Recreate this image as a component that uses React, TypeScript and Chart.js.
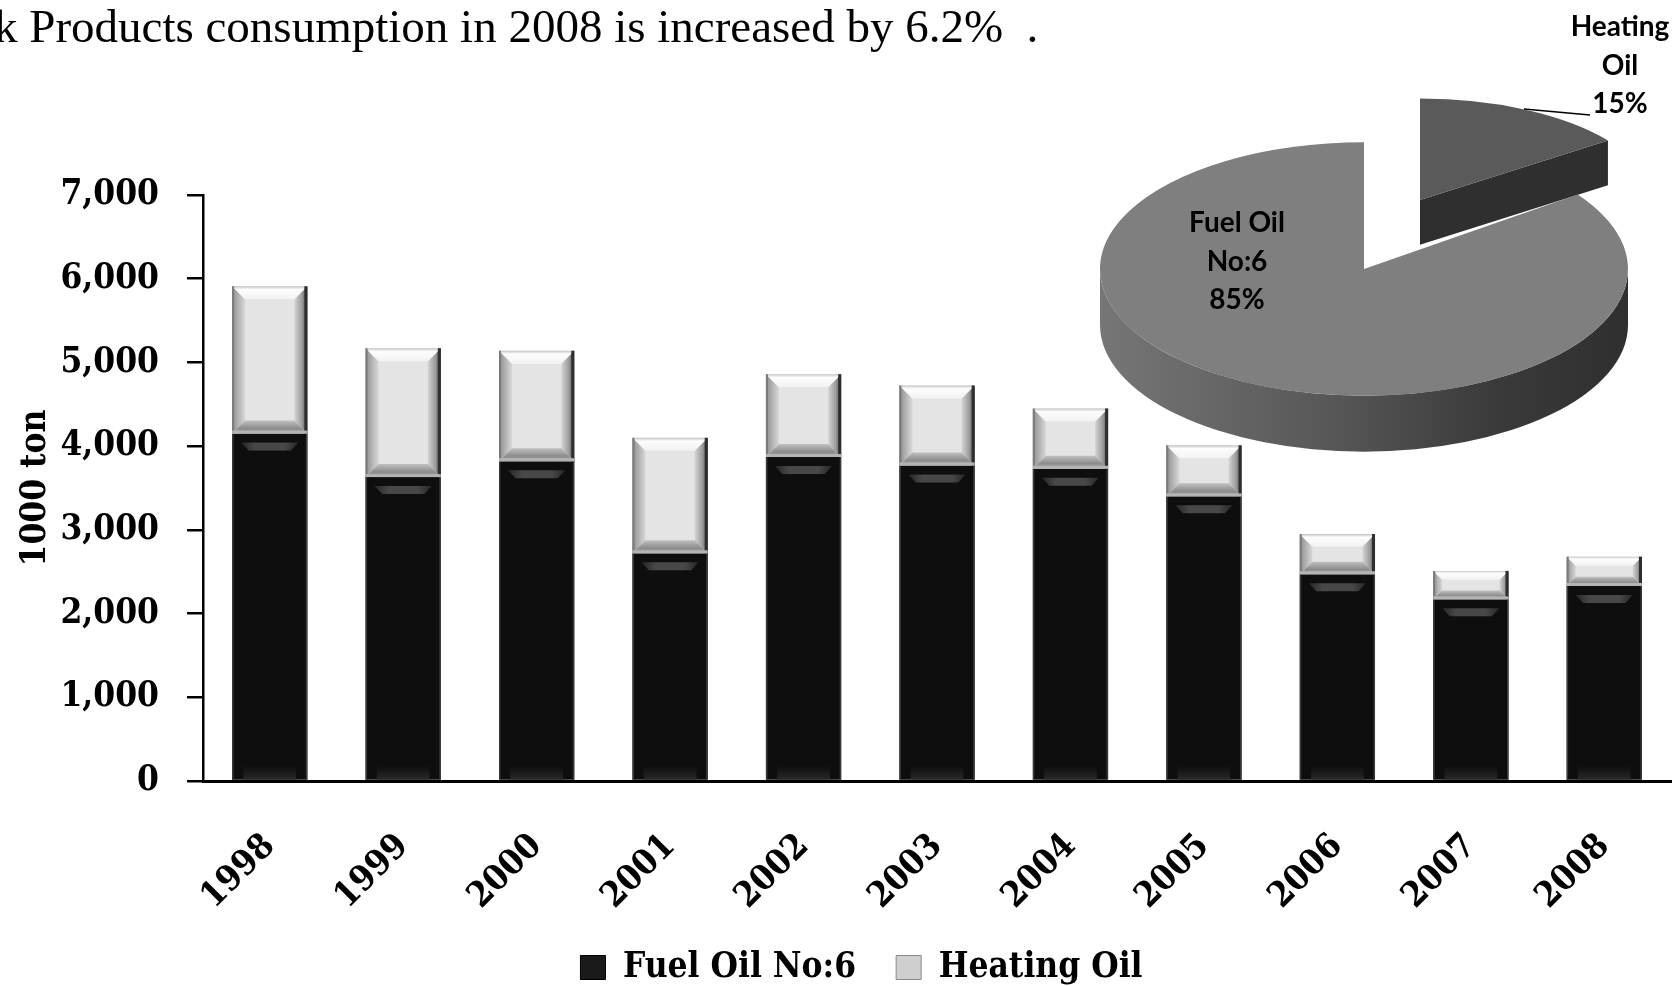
import React, { useEffect, useRef } from 'react';
import { Chart, registerables } from 'chart.js';

Chart.register(...registerables);

// ---------- data ----------
const years = ['1998', '1999', '2000', '2001', '2002', '2003', '2004', '2005', '2006', '2007', '2008'];
const fuelOilNo6 = [4150, 3630, 3820, 2720, 3870, 3770, 3730, 3400, 2470, 2170, 2330];
const heatingOil = [1760, 1540, 1320, 1380, 990, 955, 720, 610, 480, 340, 350];
const seriesNames = ['Fuel Oil No:6', 'Heating Oil'];
const yMin = 0;
const yMax = 7000;
const yStep = 1000;
const yAxisTitle = '1000 ton';
const headline = 'k Products consumption in 2008 is increased by 6.2%  .';

const pieLabels = ['Heating Oil', 'Fuel Oil No:6'];
const pieShares = [15, 85];
const pieLabelLines = [['Heating', 'Oil'], ['Fuel Oil', 'No:6']];

// ---------- styles ----------
const W = 1679;
const H = 986;
const SERIF = '"DejaVu Serif Condensed", "DejaVu Serif"';
const FONT_SIZE = 35;
const PLOT_LEFT = 203;
const PLOT_BOTTOM = 781;
const PAD_LEFT = 44;
const PAD_BOTTOM = -9;

const PIE_LEFT = 1064;
const PIE_W = 615;
const PIE_H = 480;
const PIE_CX = 300;
const PIE_CY = 269;
const PIE_R = 264;
const TILT = 0.48;
const DEPTH = 56;
const EXPLODE_XY = [
  [56, -69],
  [0, 0],
];
const SLICE_SCALE = [
  [0.88, 0.8],
  [1, 1],
];
const PIE_COLORS = ['#5a5a5a', '#7f7f7f'];

function poly(ctx: CanvasRenderingContext2D, pts: number[][], fill: any) {
  ctx.beginPath();
  ctx.moveTo(pts[0][0], pts[0][1]);
  for (let i = 1; i < pts.length; i++) ctx.lineTo(pts[i][0], pts[i][1]);
  ctx.closePath();
  ctx.fillStyle = fill;
  ctx.fill();
}

function drawHeating(ctx: CanvasRenderingContext2D, x0: number, x1: number, y0: number, y1: number) {
  const h = y1 - y0;
  const b = Math.min(13, h / 3.2, (x1 - x0) / 4);
  let g = ctx.createLinearGradient(x0, 0, x0 + b, 0);
  g.addColorStop(0, '#8e8e8e');
  g.addColorStop(1, '#d8d8d8');
  poly(ctx, [[x0, y0], [x0 + b, y0 + b], [x0 + b, y1 - b], [x0, y1]], g);
  g = ctx.createLinearGradient(x1 - b, 0, x1, 0);
  g.addColorStop(0, '#d4d4d4');
  g.addColorStop(0.6, '#9a9a9a');
  g.addColorStop(1, '#444444');
  poly(ctx, [[x1, y0], [x1, y1], [x1 - b, y1 - b], [x1 - b, y0 + b]], g);
  g = ctx.createLinearGradient(0, y0, 0, y0 + b);
  g.addColorStop(0, '#c4c4c4');
  g.addColorStop(0.25, '#fdfdfd');
  g.addColorStop(1, '#f2f2f2');
  poly(ctx, [[x0, y0], [x1, y0], [x1 - b, y0 + b], [x0 + b, y0 + b]], g);
  g = ctx.createLinearGradient(0, y1 - b, 0, y1);
  g.addColorStop(0, '#c0c0c0');
  g.addColorStop(0.6, '#8c8c8c');
  g.addColorStop(1, '#a4a4a4');
  poly(ctx, [[x0, y1], [x1, y1], [x1 - b, y1 - b], [x0 + b, y1 - b]], g);
  ctx.fillStyle = '#7a7a7a';
  ctx.fillRect(x0, y0, 2, h);
  ctx.fillStyle = '#2e2e2e';
  ctx.fillRect(x1 - 3, y0, 3, h);
  ctx.fillStyle = '#b4b4b4';
  ctx.fillRect(x0, y1 - 3, x1 - x0, 3);
}

function drawFuel(ctx: CanvasRenderingContext2D, x0: number, x1: number, y0: number, y1: number) {
  const w = x1 - x0;
  const h = y1 - y0;
  const g = ctx.createLinearGradient(x0, 0, x1, 0);
  g.addColorStop(0, 'rgba(110,110,110,0)');
  g.addColorStop(0.3, 'rgba(110,110,110,0.6)');
  g.addColorStop(0.7, 'rgba(110,110,110,0.6)');
  g.addColorStop(1, 'rgba(110,110,110,0)');
  poly(ctx, [[x0 + 0.12 * w, y0 + 9], [x1 - 0.12 * w, y0 + 9], [x1 - 0.22 * w, y0 + 17], [x0 + 0.22 * w, y0 + 17]], g);
  ctx.fillStyle = '#3a3a3a';
  ctx.fillRect(x0, y0, 1.5, h);
  ctx.fillRect(x1 - 1.5, y0, 1.5, h);
  const g2 = ctx.createLinearGradient(0, y1 - 14, 0, y1);
  g2.addColorStop(0, 'rgba(40,40,40,0)');
  g2.addColorStop(1, 'rgba(45,45,45,0.9)');
  ctx.fillStyle = g2;
  ctx.fillRect(x0 + 0.15 * w, y1 - 14, 0.7 * w, 14);
}

const barBevel = {
  id: 'barBevel',
  afterDatasetsDraw(chart: any) {
    const ctx = chart.ctx as CanvasRenderingContext2D;
    chart.data.datasets.forEach((_: any, di: number) => {
      const meta = chart.getDatasetMeta(di);
      meta.data.forEach((bar: any) => {
        const p = bar.getProps(['x', 'y', 'base', 'width'], true);
        const x0 = p.x - p.width / 2;
        const x1 = p.x + p.width / 2;
        const y0 = Math.min(p.y, p.base);
        const y1 = Math.max(p.y, p.base);
        ctx.save();
        if (di === 1) drawHeating(ctx, x0, x1, y0, y1);
        else drawFuel(ctx, x0, x1, y0, y1);
        ctx.restore();
      });
    });
  },
};

const pie3d = {
  id: 'pie3d',
  beforeDatasetsDraw(chart: any) {
    const ctx = chart.ctx as CanvasRenderingContext2D;
    const meta = chart.getDatasetMeta(0);
    const d = DEPTH / TILT;
    meta.data.forEach((arc: any, i: number) => {
      const p = arc.getProps(['x', 'y', 'startAngle', 'endAngle', 'outerRadius'], true);
      const cx = p.x;
      const cy = p.y;
      const R = p.outerRadius;
      const [dx, dy] = EXPLODE_XY[i] || [0, 0];
      const [sx, sy] = SLICE_SCALE[i] || [1, 1];
      ctx.save();
      ctx.translate(cx + dx, cy + dy);
      ctx.scale(sx, sy * TILT);
      ctx.translate(-cx, -cy);
      const face = (a: number) => {
        const ex = cx + R * Math.cos(a);
        const ey = cy + R * Math.sin(a);
        poly(ctx, [[cx, cy], [ex, ey], [ex, ey + d], [cx, cy + d]], '#2f2f2f');
      };
      if (Math.cos(p.endAngle) > 0.01) face(p.endAngle);
      if (Math.cos(p.startAngle) < -0.01) face(p.startAngle);
      for (let k = -1; k <= 1; k++) {
        const lo = Math.max(p.startAngle, 2 * Math.PI * k);
        const hi = Math.min(p.endAngle, Math.PI + 2 * Math.PI * k);
        if (hi > lo) {
          const g = ctx.createLinearGradient(cx - R, 0, cx + R, 0);
          g.addColorStop(0, '#767676');
          g.addColorStop(0.45, '#565656');
          g.addColorStop(0.75, '#3a3a3a');
          g.addColorStop(1, '#2f2f2f');
          ctx.beginPath();
          ctx.arc(cx, cy, R, lo, hi);
          ctx.arc(cx, cy + d, R, hi, lo, true);
          ctx.closePath();
          ctx.fillStyle = g;
          ctx.fill();
        }
      }
      arc.draw(ctx);
      ctx.restore();
    });
    return false;
  },
  afterDraw(chart: any) {
    const ctx = chart.ctx as CanvasRenderingContext2D;
    const meta = chart.getDatasetMeta(0);
    const c = meta.data[0].getProps(['x', 'y'], true);
    ctx.save();
    ctx.font = 'bold 28px Lato';
    ctx.fillStyle = '#000';
    ctx.textAlign = 'center';
    ctx.textBaseline = 'middle';
    const anchors = [
      [256, -242],
      [-127, -46],
    ];
    pieLabels.forEach((_, i) => {
      const lines = [...pieLabelLines[i], `${pieShares[i]}%`];
      lines.forEach((t, j) => {
        ctx.fillText(t, c.x + anchors[i][0], c.y + anchors[i][1] + j * 38.5);
      });
    });
    ctx.strokeStyle = '#000';
    ctx.lineWidth = 1.5;
    ctx.beginPath();
    ctx.moveTo(c.x + 160, c.y - 160);
    ctx.lineTo(c.x + 226, c.y - 154);
    ctx.stroke();
    ctx.restore();
  },
};

export default function App() {
  const barRef = useRef<HTMLCanvasElement>(null);
  const pieRef = useRef<HTMLCanvasElement>(null);

  useEffect(() => {
    const serifFont = { family: SERIF, size: FONT_SIZE, weight: 'bold' as const };
    const bar = new Chart(barRef.current!, {
      type: 'bar',
      data: {
        labels: years,
        datasets: [
          {
            label: seriesNames[0],
            data: fuelOilNo6,
            backgroundColor: '#0e0e0e',
            borderWidth: 0,
            categoryPercentage: 1,
            barPercentage: 0.564,
          },
          {
            label: seriesNames[1],
            data: heatingOil,
            backgroundColor: '#e4e4e4',
            borderWidth: 0,
            categoryPercentage: 1,
            barPercentage: 0.564,
          },
        ],
      },
      options: {
        animation: false,
        responsive: false,
        maintainAspectRatio: false,
        events: [],
        layout: { padding: { top: 195, left: PAD_LEFT, right: 0, bottom: PAD_BOTTOM } },
        scales: {
          x: {
            stacked: true,
            grid: { display: false, drawTicks: false },
            border: { display: true, color: '#000', width: 3 },
            ticks: {
              font: serifFont,
              color: '#000',
              minRotation: 45,
              maxRotation: 45,
              autoSkip: false,
              padding: 45,
            },
            afterFit: (s: any) => {
              const lh = s.chart.legend ? s.chart.legend.height : 0;
              s.height = H - PLOT_BOTTOM - lh - PAD_BOTTOM;
            },
          },
          y: {
            stacked: true,
            min: yMin,
            max: yMax,
            ticks: {
              stepSize: yStep,
              font: serifFont,
              color: '#000',
              padding: 28,
              callback: (v: any) => Number(v).toLocaleString('en-US'),
            },
            grid: { drawOnChartArea: false, drawTicks: true, tickLength: 16, color: '#000', lineWidth: 2.5 },
            border: { display: true, color: '#000', width: 2.5 },
            title: {
              display: true,
              text: yAxisTitle,
              font: serifFont,
              color: '#000',
              padding: { top: -29, bottom: 0 },
            },
            afterFit: (s: any) => {
              s.width = PLOT_LEFT - PAD_LEFT;
            },
          },
        },
        plugins: {
          legend: {
            position: 'bottom',
            labels: {
              font: serifFont,
              color: '#000',
              boxWidth: 25,
              boxHeight: 24,
              padding: 40,
              generateLabels: () =>
                seriesNames.map((t, i) => ({
                  text: t,
                  fillStyle: i === 0 ? '#1a1a1a' : '#cfcfcf',
                  strokeStyle: i === 0 ? '#000' : '#8a8a8a',
                  lineWidth: 1,
                  hidden: false,
                  datasetIndex: i,
                  fontColor: '#000',
                })),
            },
          },
          tooltip: { enabled: false },
        },
      },
      plugins: [barBevel],
    });

    const pie = new Chart(pieRef.current!, {
      type: 'pie',
      data: {
        labels: pieLabels,
        datasets: [
          {
            data: pieShares,
            backgroundColor: PIE_COLORS,
            borderWidth: 0,
            radius: PIE_R,
          } as any,
        ],
      },
      options: {
        animation: false,
        responsive: false,
        maintainAspectRatio: false,
        events: [],
        layout: { padding: { top: 2 * PIE_CY - PIE_H, right: PIE_W - 2 * PIE_CX, left: 0, bottom: 0 } },
        plugins: { legend: { display: false }, tooltip: { enabled: false } },
      },
      plugins: [pie3d],
    });

    return () => {
      bar.destroy();
      pie.destroy();
    };
  }, []);

  return (
    <div style={{ position: 'absolute', left: 0, top: 0, width: W, height: H, overflow: 'hidden', background: '#fff' }}>
      <canvas ref={barRef} width={W} height={H} style={{ position: 'absolute', left: 0, top: 0, width: W, height: H }} />
      <canvas
        ref={pieRef}
        width={PIE_W}
        height={PIE_H}
        style={{ position: 'absolute', left: PIE_LEFT, top: 0, width: PIE_W, height: PIE_H }}
      />
      <div
        style={{
          position: 'absolute',
          left: -6,
          top: 3,
          font: '47px "Liberation Serif"',
          lineHeight: '47px',
          whiteSpace: 'pre',
          color: '#000',
        }}
      >
        {headline}
      </div>
    </div>
  );
}
